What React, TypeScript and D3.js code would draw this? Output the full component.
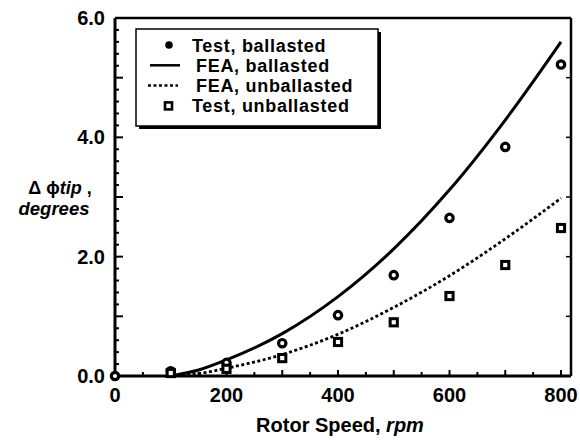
import { scaleLinear, line, curveMonotoneX, range } from 'd3';

const W = 580;
const H = 440;
const FONT = '"Liberation Sans", Arial, Helvetica, sans-serif';

// Test data (rpm, degrees)
const testRpm = [0, 100, 200, 300, 400, 500, 600, 700, 800];
const testBallasted = [0, 0.08, 0.22, 0.55, 1.02, 1.69, 2.65, 3.84, 5.22];
const testRpmUnb = [100, 200, 300, 400, 500, 600, 700, 800];
const testUnballasted = [0.05, 0.12, 0.3, 0.57, 0.9, 1.34, 1.86, 2.48];

// FEA curves
const feaRpm = [100, 150, 200, 300, 400, 500, 600, 700, 800];
const feaBallasted = [0, 0.1, 0.27, 0.71, 1.33, 2.13, 3.12, 4.29, 5.6];
const feaUnballasted = [0, 0.04, 0.13, 0.36, 0.7, 1.15, 1.68, 2.3, 2.98];

const xTicks = [0, 200, 400, 600, 800];
const yTicks = [0, 2, 4, 6];

const legendItems = ['Test, ballasted', 'FEA, ballasted', 'FEA, unballasted', 'Test, unballasted'];

const LEFT = 115;
const RIGHT = 571;
const TOP = 18;
const BOTTOM = 376;
const ROW = 20.3;

export default function App() {
  const x = scaleLinear().domain([0, 800]).range([LEFT, 561]);
  const y = scaleLinear().domain([0, 6]).range([BOTTOM, TOP]);

  const lineGen = line<[number, number]>()
    .x(d => x(d[0]))
    .y(d => y(d[1]))
    .curve(curveMonotoneX);

  const solidPath = lineGen(feaRpm.map((r, i) => [r, feaBallasted[i]])) ?? '';
  const dashPath = lineGen(feaRpm.map((r, i) => [r, feaUnballasted[i]])) ?? '';

  const yMinor = range(0, 6.001, 0.2);
  const xMinor = range(0, 801, 50);

  return (
    <svg width={W} height={H} style={{ position: 'absolute', left: 0, top: 0, background: '#fff' }}>
      {/* ticks, inward */}
      {yMinor.map((v, i) => {
        const major = Math.abs(v - Math.round(v)) < 1e-6;
        return (
          <line key={'yt' + i} x1={LEFT} x2={LEFT + (major ? 8 : 4)} y1={y(v)} y2={y(v)} stroke="#000" strokeWidth={2} />
        );
      })}
      {range(1, 6).map(v => (
        <line key={'yr' + v} x1={RIGHT} x2={RIGHT - 5} y1={y(v)} y2={y(v)} stroke="#000" strokeWidth={1.5} />
      ))}
      {xMinor.map(v => (
        <line key={'xt' + v} x1={x(v)} x2={x(v)} y1={BOTTOM} y2={BOTTOM - (v % 100 === 0 ? 6 : 4)} stroke="#000" strokeWidth={2} />
      ))}

      {/* frame */}
      <line x1={LEFT} x2={LEFT} y1={TOP} y2={BOTTOM} stroke="#000" strokeWidth={3} />
      <line x1={LEFT} x2={RIGHT} y1={BOTTOM} y2={BOTTOM} stroke="#000" strokeWidth={3} />
      <line x1={LEFT} x2={RIGHT} y1={TOP} y2={TOP} stroke="#000" strokeWidth={2.5} />
      <line x1={RIGHT} x2={RIGHT} y1={TOP} y2={BOTTOM} stroke="#000" strokeWidth={2.5} />

      {/* curves */}
      <path d={solidPath} fill="none" stroke="#000" strokeWidth={3} />
      <path d={dashPath} fill="none" stroke="#000" strokeWidth={2.8} strokeDasharray="3 2.5" />

      {/* test points */}
      {testRpm.map((r, i) => (
        <circle key={'c' + i} cx={x(r)} cy={y(testBallasted[i])} r={3.7} fill="#fff" stroke="#000" strokeWidth={3.2} />
      ))}
      {testRpmUnb.map((r, i) => (
        <rect key={'s' + i} x={x(r) - 3.6} y={y(testUnballasted[i]) - 3.6} width={7.2} height={7.2} fill="#fff" stroke="#000" strokeWidth={3} />
      ))}

      {/* tick labels */}
      {xTicks.map(v => (
        <text key={'xl' + v} x={x(v)} y={402} textAnchor="middle" fontFamily={FONT} fontWeight="bold" fontSize={20}>
          {v}
        </text>
      ))}
      {yTicks.map(v => (
        <text key={'yl' + v} x={105} y={y(v) + 7} textAnchor="end" fontFamily={FONT} fontWeight="bold" fontSize={20}>
          {v.toFixed(1)}
        </text>
      ))}

      {/* axis titles */}
      <text x={340} y={432} textAnchor="middle" fontFamily={FONT} fontWeight="bold" fontSize={20}>
        Rotor Speed, <tspan fontStyle="italic">rpm</tspan>
      </text>
      <text x={60} y={194} textAnchor="middle" fontFamily={FONT} fontWeight="bold" fontSize={18}>
        Δ ϕ<tspan fontStyle="italic">tip</tspan> ,
      </text>
      <text x={54} y={215} textAnchor="middle" fontFamily={FONT} fontWeight="bold" fontStyle="italic" fontSize={18.5}>
        degrees
      </text>

      {/* legend */}
      <rect x={139} y={32} width={242} height={97} fill="#000" />
      <rect x={136} y={29} width={242} height={97} fill="#fff" stroke="#000" strokeWidth={1.5} />
      <circle cx={169} cy={45} r={3.8} fill="#000" />
      <line x1={150} x2={180} y1={45 + ROW} y2={45 + ROW} stroke="#000" strokeWidth={2.5} />
      <line x1={148} x2={178} y1={45 + 2 * ROW} y2={45 + 2 * ROW} stroke="#000" strokeWidth={2.5} strokeDasharray="3 2.5" />
      <rect x={165} y={45 + 3 * ROW - 3.5} width={7} height={7} fill="#fff" stroke="#000" strokeWidth={2.6} />
      {legendItems.map((t, i) => (
        <text key={t} x={i === 0 || i === 3 ? 192 : 196} y={51.5 + i * ROW} fontFamily={FONT} fontWeight="bold" fontSize={18} letterSpacing={0.7}>
          {t}
        </text>
      ))}
    </svg>
  );
}
